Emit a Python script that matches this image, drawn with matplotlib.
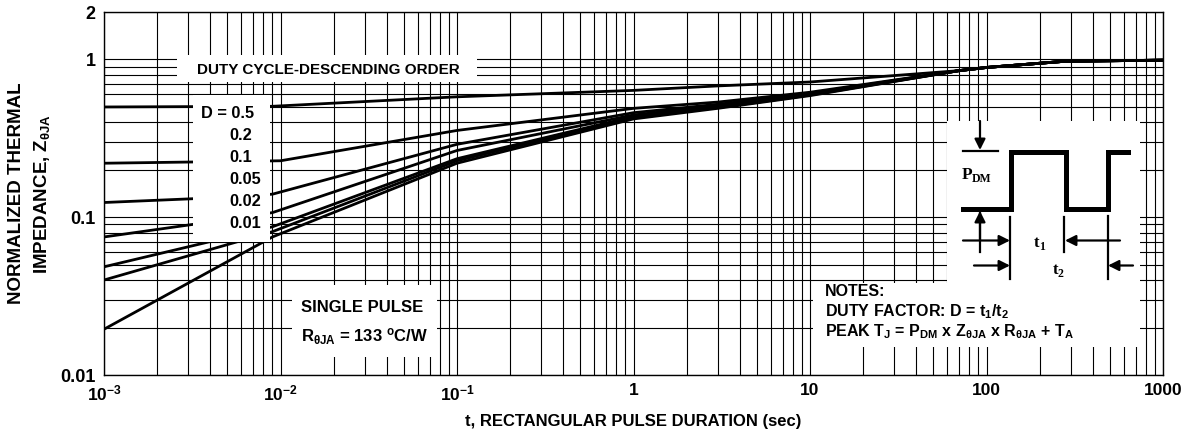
import matplotlib
matplotlib.use('Agg')

import matplotlib.pyplot as plt
from matplotlib.patches import Rectangle
from matplotlib.ticker import LogLocator, NullFormatter

plt.rcParams['font.family'] = ['Liberation Sans', 'DejaVu Sans']
plt.rcParams['font.weight'] = 'bold'
plt.rcParams['mathtext.fontset'] = 'custom'
plt.rcParams['mathtext.rm'] = 'Liberation Sans:bold'
plt.rcParams['mathtext.bf'] = 'Liberation Sans:bold'
plt.rcParams['mathtext.it'] = 'Liberation Sans:bold'
plt.rcParams['mathtext.sf'] = 'Liberation Sans:bold'

# --- data (t in sec, normalized Z) ---
d05_t = [0.001, 0.009, 0.1, 1, 3, 10, 70, 100, 280, 1000]
d05_z = [0.50, 0.505, 0.58, 0.637, 0.68, 0.72, 0.85, 0.89, 0.975, 0.99]

d02_t = [0.001, 0.01, 0.1, 1, 3, 10, 70, 100, 280, 1000]
d02_z = [0.22, 0.228, 0.355, 0.49, 0.537, 0.62, 0.85, 0.89, 0.975, 0.99]

d01_t = [0.001, 0.00317, 0.009, 0.1, 1, 3, 10, 70, 100, 280, 1000]
d01_z = [0.124, 0.131, 0.140, 0.29, 0.46, 0.52, 0.61, 0.85, 0.89, 0.975, 0.99]

d005_t = [0.001, 0.00317, 0.009, 0.1, 1, 3, 10, 70, 100, 280, 1000]
d005_z = [0.075, 0.090, 0.107, 0.265, 0.445, 0.51, 0.605, 0.85, 0.89, 0.975, 0.99]

d002_t = [0.001, 0.009, 0.1, 1, 3, 10, 70, 100, 280, 1000]
d002_z = [0.0485, 0.087, 0.235, 0.435, 0.50, 0.60, 0.85, 0.89, 0.975, 0.99]

d001_t = [0.001, 0.009, 0.1, 1, 3, 10, 70, 100, 280, 1000]
d001_z = [0.040, 0.081, 0.228, 0.43, 0.495, 0.595, 0.85, 0.89, 0.975, 0.99]

single_t = [0.001, 0.009, 0.1, 1, 3, 10, 70, 100, 280, 1000]
single_z = [0.0195, 0.075, 0.22, 0.42, 0.49, 0.59, 0.85, 0.89, 0.975, 0.99]

curves = [(d05_t, d05_z), (d02_t, d02_z), (d01_t, d01_z), (d005_t, d005_z),
          (d002_t, d002_z), (d001_t, d001_z), (single_t, single_z)]

duty_labels = ['D = 0.5', '0.2', '0.1', '0.05', '0.02', '0.01']

x_ticks = [1e-3, 1e-2, 1e-1, 1, 10, 100, 1000]
x_ticklabels = [r'$10^{-3}$', r'$10^{-2}$', r'$10^{-1}$', '1', '10', '100', '1000']
y_ticks = [0.01, 0.1, 1, 2]
y_ticklabels = ['0.01', '0.1', '1', '2']

fig = plt.figure(figsize=(11.95, 4.4), dpi=100)
ax = fig.add_axes([104 / 1195, 1 - 375 / 440, (1163 - 104) / 1195, (375 - 12) / 440])

for t, z in curves:
    ax.plot(t, z, color='black', linewidth=2.0, solid_capstyle='butt')

ax.set_xscale('log')
ax.set_yscale('log')
ax.set_xlim(1e-3, 1000)
ax.set_ylim(0.01, 2)

ax.set_xticks(x_ticks)
ax.set_xticklabels(x_ticklabels, fontsize=12.5, fontweight='bold')
ax.set_yticks(y_ticks)
ax.set_yticklabels(y_ticklabels, fontsize=13, fontweight='bold')
ax.xaxis.set_minor_locator(LogLocator(base=10, subs=range(2, 10), numticks=20))
ax.yaxis.set_minor_locator(LogLocator(base=10, subs=range(2, 10), numticks=20))
ax.xaxis.set_minor_formatter(NullFormatter())
ax.yaxis.set_minor_formatter(NullFormatter())
ax.tick_params(which='both', length=0, pad=6)
ax.grid(True, which='both', color='black', linewidth=0.8)
for s in ax.spines.values():
    s.set_linewidth(1.0)

ax.set_xlabel('t, RECTANGULAR PULSE DURATION (sec)', fontsize=12, fontweight='bold', labelpad=8)
ax.set_ylabel('NORMALIZED THERMAL\n' + r'IMPEDANCE, Z$_{\theta JA}$', fontsize=13.5,
              fontweight='bold', linespacing=1.45)
ax.yaxis.set_label_coords(-0.049, 0.5)

# overlay in pixel coordinates for boxes and annotations
ov = fig.add_axes([0, 0, 1, 1])
ov.set_xlim(0, 1195)
ov.set_ylim(440, 0)
ov.axis('off')
ov.patch.set_alpha(0)

def wbox(x0, y0, x1, y1):
    ov.add_patch(Rectangle((x0, y0), x1 - x0, y1 - y0, facecolor='white', edgecolor='none'))

wbox(177, 55, 477, 82)
wbox(193, 95, 270, 242)
wbox(292, 285, 437, 357)
wbox(947, 121, 1140, 283)
wbox(813, 283, 1140, 347)

ov.text(328, 70, 'DUTY CYCLE-DESCENDING ORDER', fontsize=11, ha='center', va='center')
ov.text(201.5, 113, duty_labels[0], fontsize=11.8, ha='left', va='center')
for i, lab in enumerate(duty_labels[1:]):
    ov.text(229, 136 + 22 * i, lab, fontsize=11.8, ha='left', va='center')

ov.text(301, 308, 'SINGLE PULSE', fontsize=12, ha='left', va='center')
ov.text(301, 337, r'R$_{\theta JA}$ = 133 $^{\rm o}$C/W', fontsize=12, ha='left', va='center')

ov.text(825, 292, 'NOTES:', fontsize=11.5, ha='left', va='center')
ov.text(825, 312, r'DUTY FACTOR: D = t$_1$/t$_2$', fontsize=11.5, ha='left', va='center')
ov.text(825, 332, r'PEAK T$_J$ = P$_{DM}$ x Z$_{\theta JA}$ x R$_{\theta JA}$ + T$_A$',
        fontsize=11.5, ha='left', va='center')

# pulse sketch
ov.plot([963, 1011, 1011, 1066, 1066, 1108, 1108, 1128],
        [209, 209, 152, 152, 209, 209, 152, 152], color='black', linewidth=3.6,
        solid_joinstyle='miter')
lk = dict(color='black', linewidth=1.6)
ov.plot([963, 998], [151, 151], **lk)
ov.plot([1010.5, 1010.5], [217, 279], **lk)
ov.plot([1064, 1064], [217, 252], **lk)
ov.plot([1108, 1108], [216, 279], **lk)
ov.plot([980, 980], [212, 252], **lk)
arw = dict(arrowstyle='-|>', color='black', lw=1.6, mutation_scale=16, shrinkA=0, shrinkB=0)
ov.annotate('', xy=(980, 150), xytext=(980, 121), arrowprops=arw)
ov.annotate('', xy=(980, 211), xytext=(980, 240), arrowprops=arw)
ov.annotate('', xy=(1010, 240.5), xytext=(963, 240.5), arrowprops=arw)
ov.annotate('', xy=(1065, 240.5), xytext=(1120, 240.5), arrowprops=arw)
ov.annotate('', xy=(1010, 265.5), xytext=(974, 265.5), arrowprops=arw)
ov.annotate('', xy=(1108, 265.5), xytext=(1133, 265.5), arrowprops=arw)

serif = ['Liberation Serif', 'DejaVu Serif']
ov.text(962, 175, 'P', family=serif, fontsize=12.5, ha='left', va='center')
ov.text(972, 179, 'DM', family=serif, fontsize=8.5, ha='left', va='center')
ov.text(1034, 243, 't', family=serif, fontsize=12, ha='left', va='center')
ov.text(1039, 247, '1', family=serif, fontsize=8.5, ha='left', va='center')
ov.text(1053, 270, 't', family=serif, fontsize=12, ha='left', va='center')
ov.text(1058, 274, '2', family=serif, fontsize=8.5, ha='left', va='center')

fig.savefig('out.png', dpi=100)
plt.close(fig)
